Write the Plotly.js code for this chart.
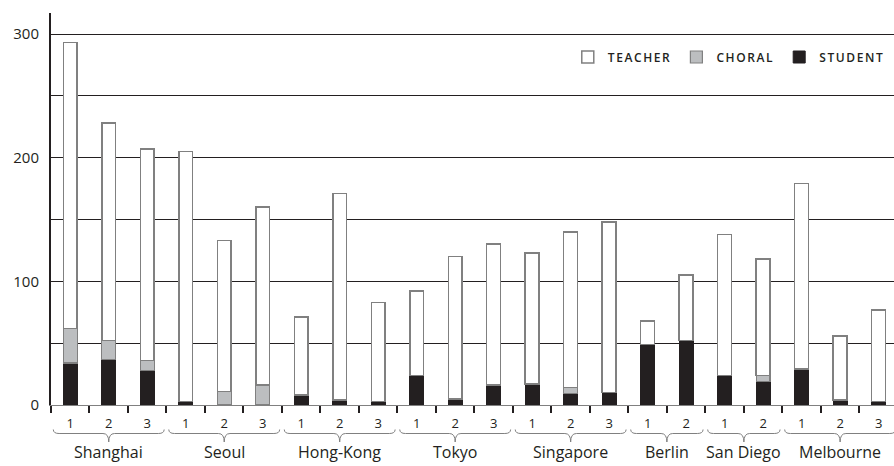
<!DOCTYPE html>
<html>
<head>
<meta charset="utf-8">
<script src="https://cdn.plot.ly/plotly-3.0.1.min.js"></script>
<style>
  html, body { margin: 0; padding: 0; background: #ffffff; }
  #chart { width: 894px; height: 466px; }
  .legendtext { letter-spacing: 1.6px; }
</style>
</head>
<body>
<div id="chart"></div>
<script>
// ---- data ----
const groups = ['Shanghai', 'Seoul', 'Hong-Kong', 'Tokyo', 'Singapore', 'Berlin', 'San Diego', 'Melbourne'];
const groupSizes = [3, 3, 3, 3, 3, 2, 2, 3];
const student = [34, 37, 28, 3, 0, 0, 8, 4, 3, 24, 5, 16, 17, 9, 10, 49, 52, 24, 19, 29, 4, 3];
const choral  = [28, 15, 8, 0, 11, 16, 0, 0, 0, 0, 0, 0, 0, 5, 0, 0, 0, 0, 5, 0, 0, 0];
const teacher = [231, 176, 171, 202, 122, 144, 63, 167, 80, 68, 115, 114, 106, 126, 138, 19, 53, 114, 94, 150, 52, 74];
const yTickVals = [0, 50, 100, 150, 200, 250, 300];
const yTickText = ['0', '', '100', '', '200', '', '300'];

// ---- derived positions ----
const xIdx = [];
const slotLabels = [];
const groupRanges = [];
let k = 0;
groupSizes.forEach(function (n) {
  const start = k;
  for (let j = 1; j <= n; j++) { xIdx.push(k); slotLabels.push(String(j)); k++; }
  groupRanges.push([start, k - 1]);
});
const boundaries = [];
for (let i = 0; i <= xIdx.length; i++) boundaries.push(i - 0.5);

const ink = '#231f20';
const outline = '#808080';
const FONT = 'Open Sans, sans-serif';

const traces = [
  { type: 'bar', name: 'STUDENT', x: xIdx, y: student,
    marker: { color: ink, line: { color: ink, width: 1 } } },
  { type: 'bar', name: 'CHORAL', x: xIdx, y: choral,
    marker: { color: '#bcbec0', line: { color: outline, width: 1.2 } } },
  { type: 'bar', name: 'TEACHER', x: xIdx, y: teacher,
    marker: { color: '#ffffff', line: { color: outline, width: 1.5 } } }
];

// pixel helpers for the area below the axis (plot: top 13, height 392)
const plotTop = 13, plotH = 392, axisY = plotTop + plotH;
function py(pix) { return (axisY - pix) / plotH; }

const shapes = [];
const annotations = [];
groupRanges.forEach(function (r, gi) {
  const x0 = r[0] - 0.5 + 0.06, x1 = r[1] + 0.5 - 0.06, xc = (r[0] + r[1]) / 2;
  const d = 0.15;
  const yT = py(429.5), yM = py(433.5), yB = py(442);
  const path = 'M' + x0 + ',' + yT +
    ' Q' + x0 + ',' + yM + ' ' + (x0 + d) + ',' + yM +
    ' L' + (xc - d) + ',' + yM +
    ' Q' + xc + ',' + yM + ' ' + xc + ',' + yB +
    ' Q' + xc + ',' + yM + ' ' + (xc + d) + ',' + yM +
    ' L' + (x1 - d) + ',' + yM +
    ' Q' + x1 + ',' + yM + ' ' + x1 + ',' + yT;
  shapes.push({ type: 'path', xref: 'x', yref: 'paper', path: path,
    line: { color: outline, width: 1 } });
  annotations.push({ x: xc, xref: 'x', y: py(452), yref: 'paper', text: groups[gi],
    showarrow: false, xanchor: 'center', yanchor: 'middle',
    font: { family: FONT, size: 16, color: ink } });
});

const layout = {
  width: 894, height: 466,
  margin: { l: 51, r: 0, t: plotTop, b: 466 - axisY, pad: 0 },
  paper_bgcolor: '#ffffff', plot_bgcolor: '#ffffff',
  barmode: 'stack', bargap: 0.64,
  showlegend: true,
  legend: { orientation: 'h', x: 0.995, xanchor: 'right', y: py(57), yanchor: 'middle',
    traceorder: 'reversed', bgcolor: 'rgba(0,0,0,0)',
    font: { family: FONT, size: 12, color: ink, weight: 600 } },
  xaxis: {
    range: [-0.5, 21.4], tickmode: 'array', tickvals: xIdx, ticktext: slotLabels,
    ticks: '', showgrid: false, zeroline: false,
    showline: true, linecolor: outline, linewidth: 1,
    tickfont: { family: FONT, size: 13, color: ink },
    ticklabelstandoff: 6,
    minor: { tickmode: 'array', tickvals: boundaries, ticks: 'outside', ticklen: 7,
      tickwidth: 2, tickcolor: ink, showgrid: false },
    fixedrange: true
  },
  yaxis: {
    range: [0, 317], tickmode: 'array', tickvals: yTickVals, ticktext: yTickText,
    ticks: '', showgrid: true, gridcolor: ink, gridwidth: 1,
    zeroline: true, zerolinecolor: outline, zerolinewidth: 1,
    showline: true, linecolor: ink, linewidth: 2,
    tickfont: { family: FONT, size: 15, color: ink },
    ticklabelstandoff: 7, fixedrange: true
  },
  shapes: shapes,
  annotations: annotations,
  hovermode: false
};

Plotly.newPlot('chart', traces, layout, { displayModeBar: false, staticPlot: true });
</script>
</body>
</html>
